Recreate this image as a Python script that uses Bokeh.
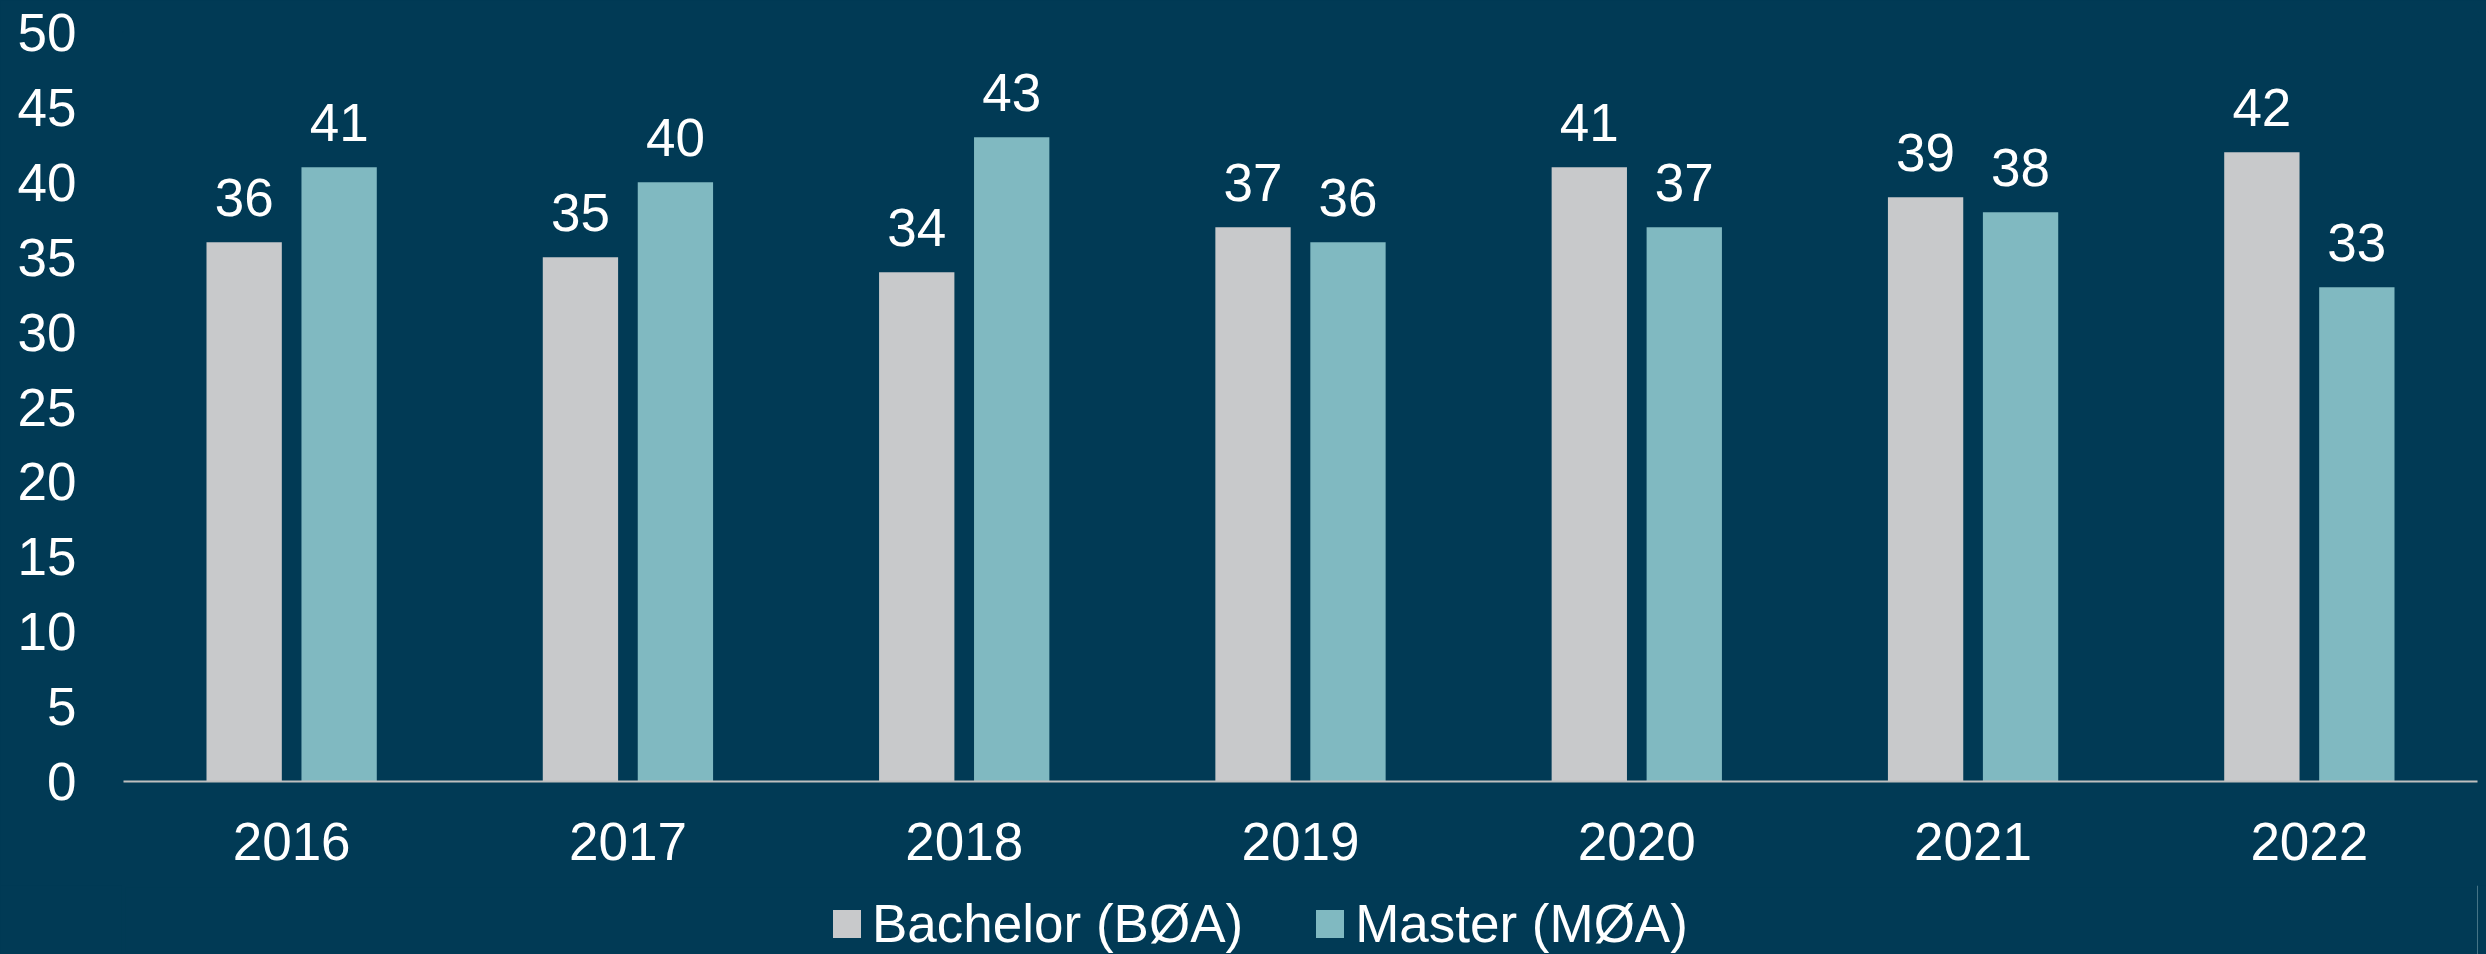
from bokeh.plotting import figure
from bokeh.models import (ColumnDataSource, FactorRange, Range1d, Legend, LegendItem,
                          SingleIntervalTicker, InlineStyleSheet)
from bokeh.layouts import column
from bokeh.transform import dodge
from bokeh.core.properties import value
from bokeh.embed import file_html
from bokeh.resources import INLINE

years = ["2016", "2017", "2018", "2019", "2020", "2021", "2022"]
bachelor = [36, 35, 34, 37, 41, 39, 42]
master = [41, 40, 43, 36, 37, 38, 33]
series_names = ["Bachelor (BØA)", "Master (MØA)"]

BG = "#013A55"
GRAY = "#C8C9CB"
TEAL = "#80B9C1"
FONT = "Liberation Sans"

src = ColumnDataSource(dict(
    year=years, bach=bachelor, mast=master,
    bach_s=[str(v) for v in bachelor], mast_s=[str(v) for v in master],
))

W = 2486
H_MAIN = 885
H_LEG = 954 - H_MAIN
LEFT = 123

css = InlineStyleSheet(css=":host, div, svg, canvas { background-color: %s !important; }" % BG)

p = figure(x_range=FactorRange(factors=years, range_padding=0),
           y_range=Range1d(0, 50),
           width=W, height=H_MAIN, output_backend="svg", toolbar_location=None,
           min_border_left=LEFT, min_border_right=9, min_border_top=32,
           min_border_bottom=H_MAIN - 781)
p.stylesheets = [css]
p.background_fill_color = BG
p.border_fill_color = BG
p.outline_line_color = BG
p.outline_line_width = 3
p.xgrid.visible = False
p.ygrid.visible = False

off = 0.1412
bw = 0.224
p.vbar(x=dodge("year", -off, range=p.x_range), top="bach", width=bw, source=src,
       fill_color=GRAY, line_color=None)
p.vbar(x=dodge("year", off, range=p.x_range), top="mast", width=bw, source=src,
       fill_color=TEAL, line_color=None)

for col, lab, d in (("bach", "bach_s", -off), ("mast", "mast_s", off)):
    p.text(x=dodge("year", d, range=p.x_range), y=col, text=lab, source=src,
           text_align="center", text_baseline="bottom", y_offset=-26,
           text_color="white", text_font_size="53px", text_font=value(FONT))

xa = p.xaxis[0]
xa.axis_line_color = "#BFBFBF"
xa.axis_line_width = 2
xa.major_tick_line_color = None
xa.minor_tick_line_color = None
xa.major_label_standoff = 35
xa.major_label_text_font_size = "53px"
xa.major_label_text_font = FONT
xa.major_label_text_color = "white"

ya = p.yaxis[0]
ya.ticker = SingleIntervalTicker(interval=5)
ya.axis_line_color = None
ya.major_tick_line_color = None
ya.minor_tick_line_color = None
ya.major_label_standoff = 41
ya.major_label_text_font_size = "53px"
ya.major_label_text_font = FONT
ya.major_label_text_color = "white"

# legend strip below the chart
p2 = figure(width=W, height=H_LEG, output_backend="svg", toolbar_location=None,
            x_range=Range1d(0, 1), y_range=Range1d(0, 1),
            x_axis_type=None, y_axis_type=None,
            min_border_left=LEFT, min_border_right=9, min_border_top=0, min_border_bottom=0)
p2.stylesheets = [css]
p2.background_fill_color = BG
p2.border_fill_color = BG
p2.outline_line_color = BG
p2.outline_line_width = 4
p2.xgrid.visible = False
p2.ygrid.visible = False
hidden = ColumnDataSource(dict(x=[5], top=[1]))
l1 = p2.vbar(x="x", top="top", width=0.1, source=hidden, fill_color=GRAY, line_color=None)
l2 = p2.vbar(x="x", top="top", width=0.1, source=hidden, fill_color=TEAL, line_color=None)

legend = Legend(items=[LegendItem(label=series_names[0], renderers=[l1]),
                       LegendItem(label=series_names[1], renderers=[l2])],
                location=(829 - LEFT, 0), orientation="horizontal",
                glyph_width=35, glyph_height=35, label_standoff=8, spacing=69,
                padding=0, margin=0, border_line_alpha=0, background_fill_alpha=0,
                label_text_font_size="53px", label_text_font=FONT, label_text_color="white")
p2.add_layout(legend, "center")

layout = column(p, p2, spacing=0)
layout.stylesheets = [css]
html = file_html(layout, INLINE)
html = html.replace("<body>", '<body style="background:%s">' % BG, 1)
open("out.html", "w").write(html)
